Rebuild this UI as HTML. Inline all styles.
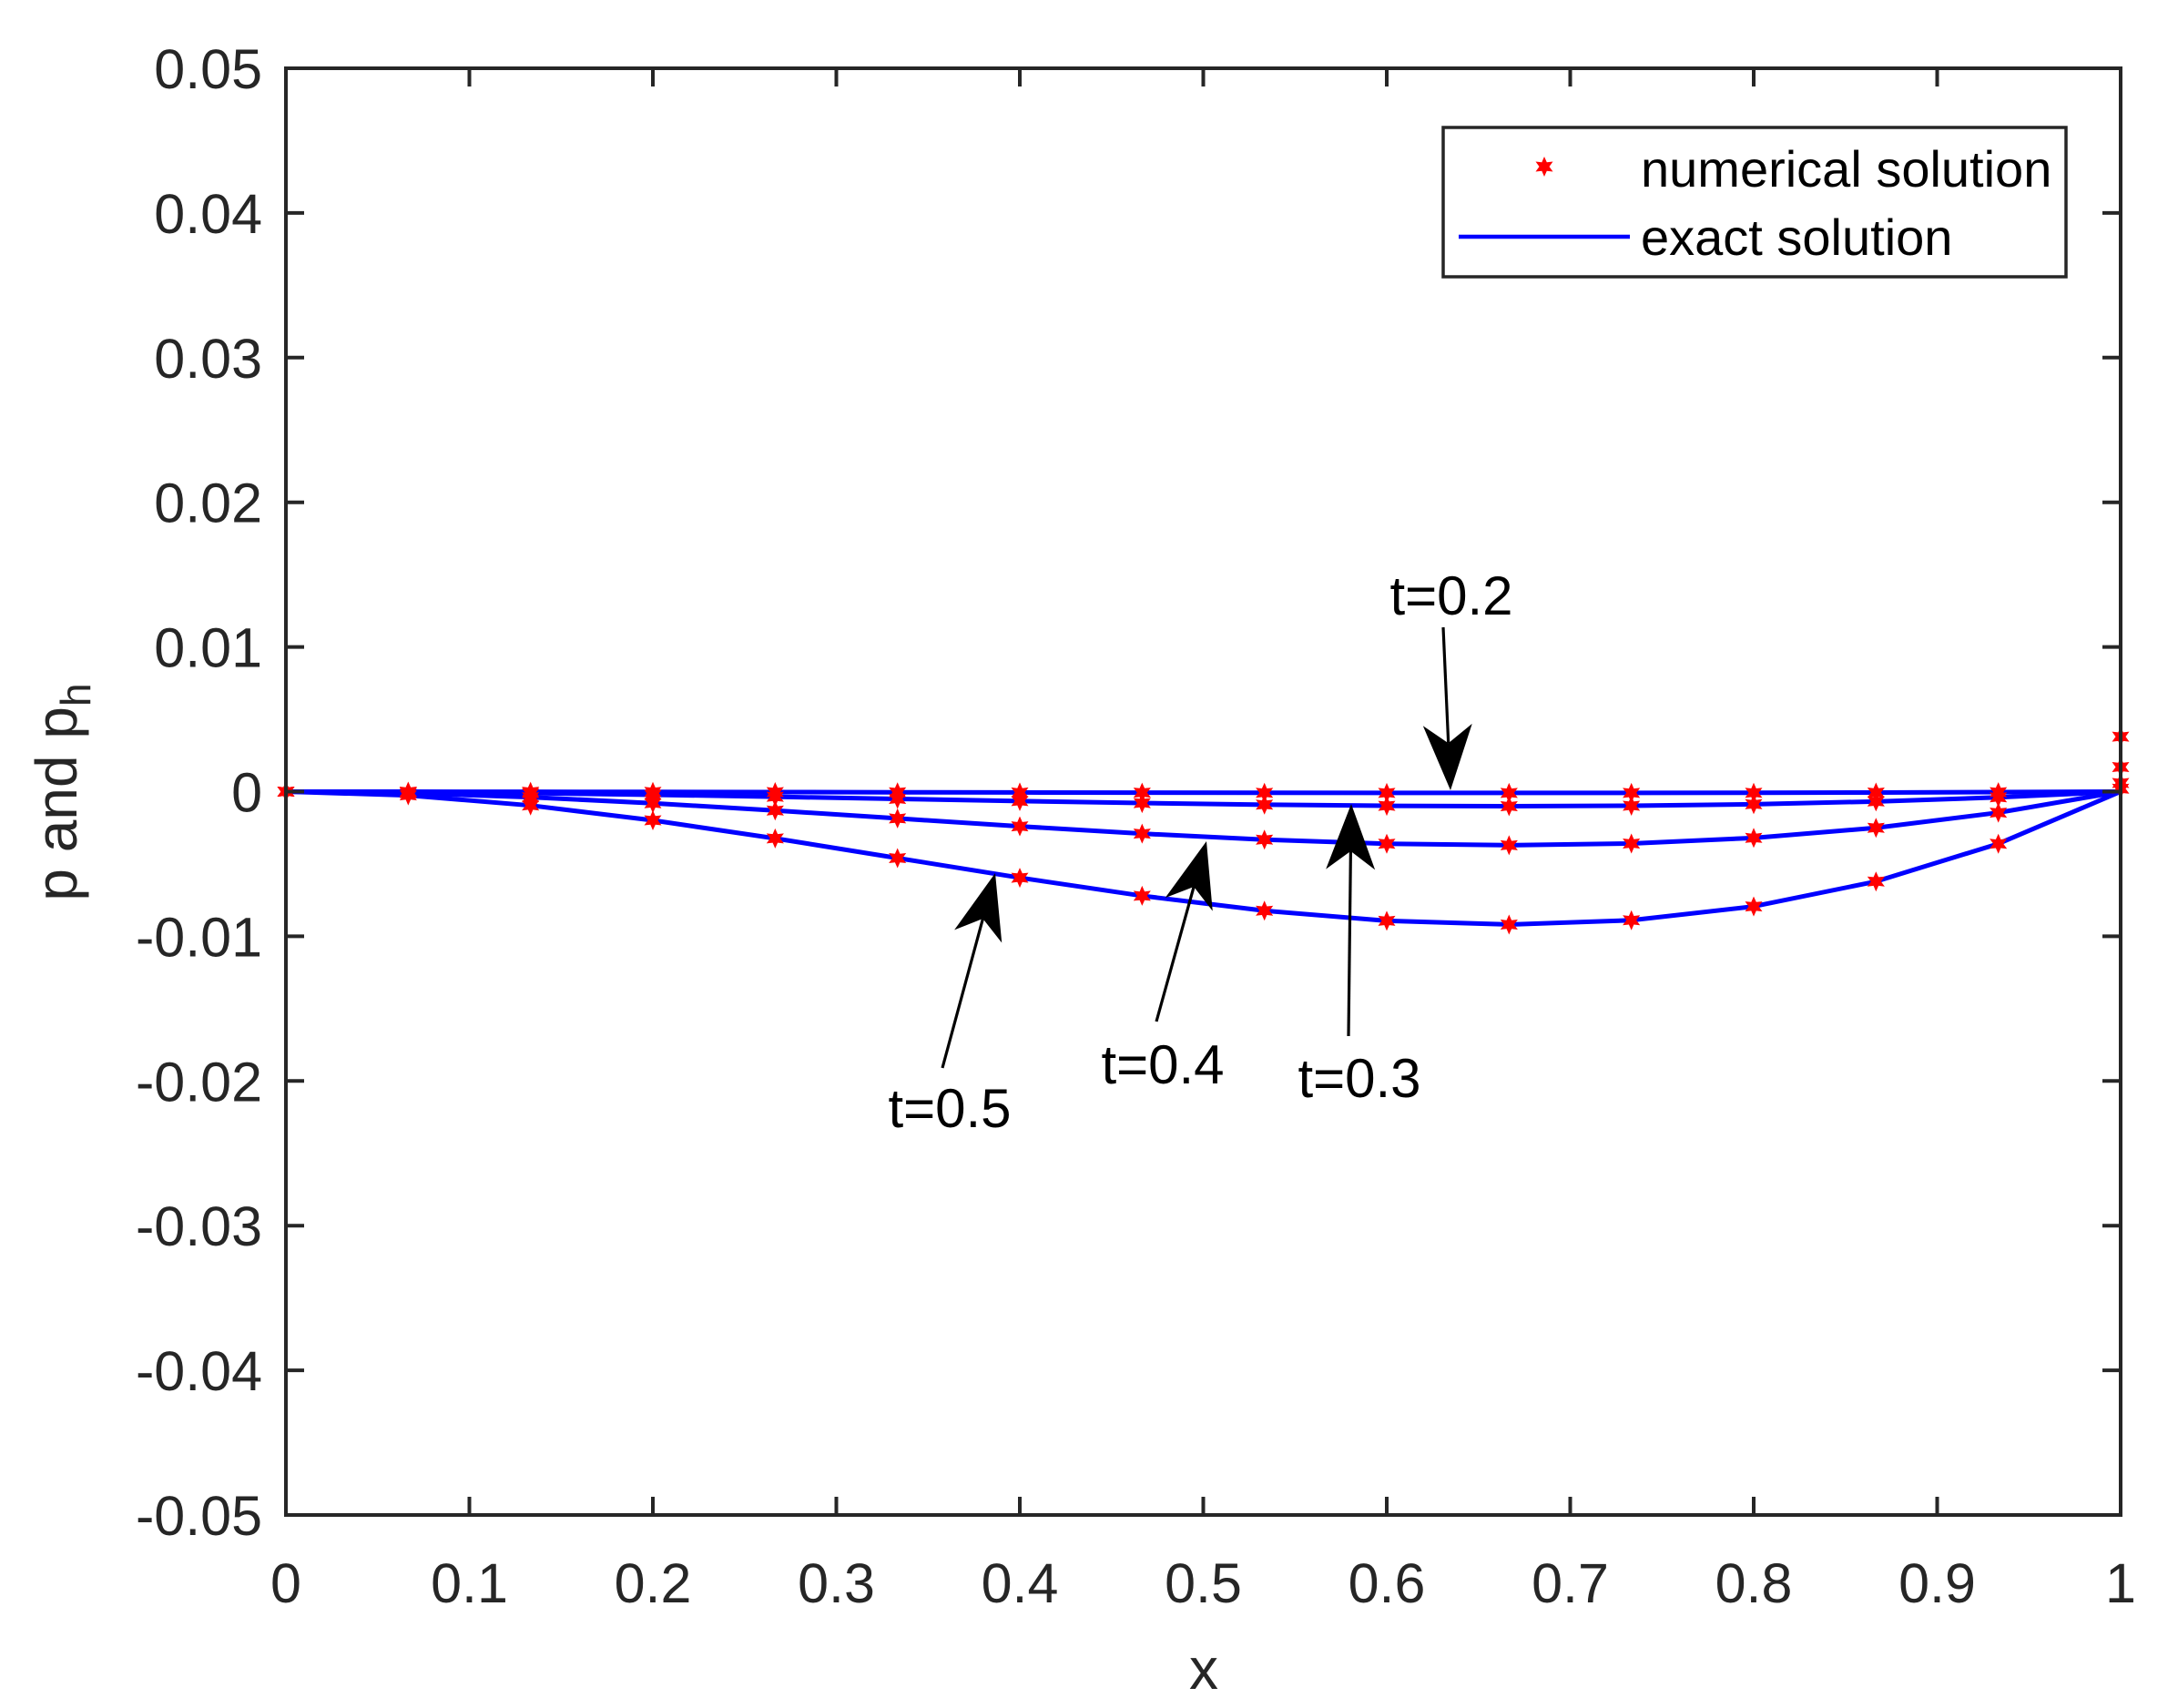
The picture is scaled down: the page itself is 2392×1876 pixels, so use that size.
<!DOCTYPE html>
<html><head><meta charset="utf-8"><style>html,body{margin:0;padding:0;background:#fff}svg{display:block}</style></head>
<body>
<svg id="s" xmlns="http://www.w3.org/2000/svg" width="2392" height="1876" viewBox="0 0 2392 1876" font-family="Liberation Sans, Arial, sans-serif">
<rect width="2392" height="1876" fill="#fff"/>
<g id="data"></g>
<g id="axes" stroke="#262626" stroke-width="4" fill="none"></g>
<g id="lbl" fill="#262626" font-size="61"></g>
<!-- legend -->
<rect x="1585" y="140" width="684" height="164" fill="#fff" stroke="#262626" stroke-width="3.5"/>
<line x1="1602" y1="260" x2="1790" y2="260" stroke="#0000ff" stroke-width="4.5"/>
<g id="legstar"></g>
<text x="1802" y="205" font-size="56" fill="#000">numerical solution</text>
<text x="1802" y="280" font-size="56" fill="#000">exact solution</text>
<!-- axis labels -->
<text x="1322" y="1855" font-size="64" fill="#262626" text-anchor="middle">x</text>
<text transform="translate(84,870) rotate(-90)" font-size="64" fill="#262626" text-anchor="middle">p and p<tspan font-size="46" dy="15">h</tspan></text>
<!-- annotations -->
<g id="arr" fill="#000" stroke="#000"></g>
<g font-size="60" fill="#000" text-anchor="middle">
<text x="1594" y="675">t=0.2</text>
<text x="1493" y="1205">t=0.3</text>
<text x="1277" y="1190">t=0.4</text>
<text x="1043" y="1238">t=0.5</text>
</g>
</svg>
<script>
var NS="http://www.w3.org/2000/svg";
var L=314,R=2329,T=75,B=1664;
function X(v){return L+v*(R-L);}
function Y(v){return T+(0.05-v)/0.1*(B-T);}
function el(p,tag,a){var e=document.createElementNS(NS,tag);for(var k in a)e.setAttribute(k,a[k]);p.appendChild(e);return e;}
var ax=document.getElementById('axes'),lb=document.getElementById('lbl');
el(ax,'rect',{x:L,y:T,width:R-L,height:B-T});
for(var i=0;i<=10;i++){var x=X(i/10);
 if(i>0&&i<10){el(ax,'line',{x1:x,y1:B,x2:x,y2:B-20});el(ax,'line',{x1:x,y1:T,x2:x,y2:T+20});}
 var t=el(lb,'text',{x:x,y:1760,'text-anchor':'middle'});t.textContent=(i==0?'0':i==10?'1':'0.'+i);}
for(var j=-5;j<=5;j++){var v=j/100,y=Y(v);
 if(j>-5&&j<5){el(ax,'line',{x1:L,y1:y,x2:L+20,y2:y});el(ax,'line',{x1:R,y1:y,x2:R-20,y2:y});}
 var s=(j==0?'0':(j<0?'-':'')+'0.0'+Math.abs(j));
 var t=el(lb,'text',{x:288,y:y+22,'text-anchor':'end'});t.textContent=s;}
function star(p,cx,cy,r){var pts=[];for(var k=0;k<12;k++){var a=Math.PI/2+k*Math.PI/6,rr=(k%2==0)?r:r*0.5;pts.push((cx+rr*Math.cos(a)).toFixed(1)+','+(cy-rr*Math.sin(a)).toFixed(1));}
 el(p,'polygon',{points:pts.join(' '),fill:'#ff0000'});}
var d=document.getElementById('data');
var C=[0.0006,0.0068,0.025,0.062];
C.forEach(function(c){var pts=[];for(var k=0;k<=15;k++){var x=k/15;pts.push(X(x)+','+Y(-c*x*x*(1-x)));}
 el(d,'polyline',{points:pts.join(' '),fill:'none',stroke:'#0000ff','stroke-width':5,'stroke-linejoin':'round'});});
C.forEach(function(c,ci){for(var k=0;k<=15;k++){var x=k/15,v=-c*x*x*(1-x);
 if(k==15){v=[0.0002,0.0006,0.0017,0.0038][ci];}
 star(d,X(x),Y(v),11);}});
star(document.getElementById('legstar'),1696,183,11);
var ag=document.getElementById('arr');
function arrow(x1,y1,x2,y2){var dx=x2-x1,dy=y2-y1,l=Math.hypot(dx,dy),ux=dx/l,uy=dy/l,px=-uy,py=ux,hl=72,hw=27;
 var bx=x2-ux*hl,by=y2-uy*hl,mx=x2-ux*hl*0.72,my=y2-uy*hl*0.72;
 el(ag,'line',{x1:x1,y1:y1,x2:mx,y2:my,'stroke-width':3.2});
 el(ag,'polygon',{points:[x2+','+y2,(bx+px*hw)+','+(by+py*hw),mx+','+my,(bx-px*hw)+','+(by-py*hw)].join(' '),stroke:'none'});}
arrow(1585,689,1593,868);
arrow(1481,1138,1484,883);
arrow(1270,1122,1325,924);
arrow(1035,1173,1093,959);
</script>
</body></html>
